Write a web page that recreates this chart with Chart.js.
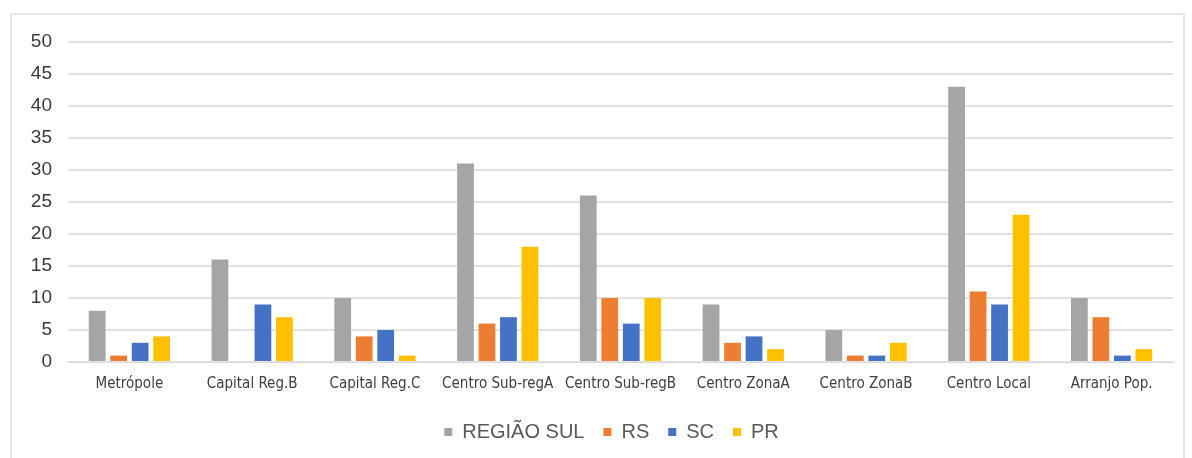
<!DOCTYPE html>
<html>
<head>
<meta charset="utf-8">
<script src="https://cdn.jsdelivr.net/npm/chart.js@4.4.1/dist/chart.umd.min.js"></script>
<style>
  html, body { margin: 0; padding: 0; background: #ffffff; }
  body { width: 1192px; height: 458px; position: relative; overflow: hidden; }
  #frame { position: absolute; left: 10px; top: 13px; width: 1175px; height: 460px;
           border: 2px solid #e6e6e6; box-sizing: border-box; }
  #wrap { position: absolute; left: 0; top: 0; width: 1192px; height: 458px; }
</style>
</head>
<body>
<div id="frame"></div>
<div id="wrap"><canvas id="c" width="1192" height="458"></canvas></div>
<script>
// Categories (city hierarchy levels)
const categories = [
  "Metrópole", "Capital Reg.B", "Capital Reg.C", "Centro Sub-regA",
  "Centro Sub-regB", "Centro ZonaA", "Centro ZonaB", "Centro Local", "Arranjo Pop."
];

// Series values
const regiaoSul = [8, 16, 10, 31, 26, 9, 5, 43, 10];
const rs        = [1, 0, 4, 6, 10, 3, 1, 11, 7];
const sc        = [3, 9, 5, 7, 6, 4, 1, 9, 1];
const pr        = [4, 7, 1, 18, 10, 2, 3, 23, 2];

// Y-axis tick labels
const yTicks = [0, 5, 10, 15, 20, 25, 30, 35, 40, 45, 50];

const seriesNames = ["REGIÃO SUL", "RS", "SC", "PR"];
const seriesColors = ["#A5A5A5", "#ED7D31", "#4472C4", "#FFC000"];
const seriesData = [regiaoSul, rs, sc, pr];

const datasets = seriesNames.map((name, i) => ({
  label: name,
  data: seriesData[i],
  backgroundColor: seriesColors[i],
  borderWidth: 0,
  categoryPercentage: 0.7,
  barPercentage: 0.78
}));

// Nudge the legend row a little to the right of centre
const legendShift = {
  id: "legendShift",
  beforeDraw(chart) {
    const lg = chart.legend;
    if (lg && !lg._shifted) {
      lg.left += 20;
      lg.right += 20;
      lg._shifted = true;
    }
  }
};

new Chart(document.getElementById("c"), {
  type: "bar",
  data: { labels: categories, datasets },
  plugins: [legendShift],
  options: {
    responsive: false,
    animation: false,
    layout: { padding: { left: 10, right: 19, top: 42, bottom: 6 } },
    plugins: {
      tooltip: { enabled: false },
      legend: {
        position: "bottom",
        labels: {
          boxWidth: 8,
          boxHeight: 8,
          padding: 19,
          color: "#595959",
          font: { family: "Liberation Sans, Arial, sans-serif", size: 20 }
        }
      }
    },
    scales: {
      x: {
        afterFit: (axis) => { axis.height -= 3; },
        grid: { display: false, drawTicks: false },
        border: { display: true, color: "#d9d9d9", width: 1 },
        ticks: {
          color: "#404040",
          padding: 13,
          maxRotation: 0,
          autoSkip: false,
          font: { family: "DejaVu Sans Condensed, sans-serif", size: 15 }
        }
      },
      y: {
        min: 0,
        max: 50,
        afterBuildTicks: (axis) => { axis.ticks = yTicks.map(v => ({ value: v })); },
        afterFit: (axis) => { axis.width = 58; },
        grid: { color: "#e3e3e3", lineWidth: 2, drawTicks: false },
        border: { display: false },
        ticks: {
          color: "#3a3a3a",
          padding: 16,
          font: { family: "Liberation Sans, Arial, sans-serif", size: 19 }
        }
      }
    }
  }
});
</script>
</body>
</html>
